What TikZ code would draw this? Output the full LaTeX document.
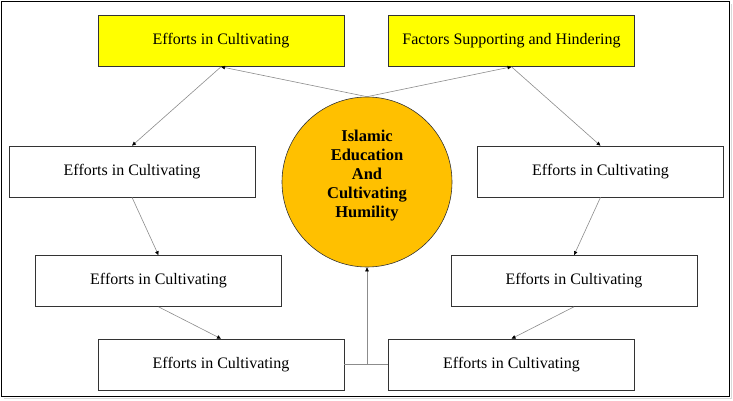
\documentclass[tikz,border=0pt]{standalone}
\usepackage{fontspec}
\setmainfont{Liberation Serif}
\usetikzlibrary{arrows.meta}
\definecolor{boxyellow}{HTML}{FFFF00}
\definecolor{circgold}{HTML}{FFC000}
\definecolor{linegray}{HTML}{8C8C8C}
\begin{document}
\begin{tikzpicture}[x=1pt,y=-1pt,
  box/.style={draw=black!80,line width=0.6pt,minimum width=246pt,minimum height=51pt,inner sep=0pt,font=\fontsize{16}{19}\selectfont},
  ybox/.style={box,fill=boxyellow},
  wbox/.style={box,fill=white},
  hub/.style={circle,draw=black!80,line width=0.6pt,fill=circgold,minimum size=170pt,inner sep=0pt},
  hubtext/.style={align=center,inner sep=0pt,font=\fontsize{16.5}{19}\selectfont\bfseries},
  conn/.style={draw=linegray,line width=0.6pt,-{Triangle[black,length=4pt,width=3.5pt]}},
  plain/.style={draw=linegray,line width=0.6pt}]
\useasboundingbox (0,0) rectangle (733,401);
\draw[black!15,line width=1.5pt] (4,398.5) -- (731.5,398.5) -- (731.5,4);
\draw[black,line width=1.3pt] (1.5,1.5) rectangle (729.5,396.5);
\node[hub] (c) at (367,182) {};
\node[hubtext] (ct) at (367,176) {Islamic\\Education\\And\\Cultivating\\Humility};
\node[ybox] (tl) at (221,41) {Efforts in Cultivating};
\node[ybox] (tr) at (511.5,41) {Factors Supporting and Hindering};
\node[wbox] (lm) at (132,171.5) {Efforts in Cultivating};
\node[wbox] (rm) at (600.5,171.5) {Efforts in Cultivating};
\node[wbox] (ll) at (158.5,281) {Efforts in Cultivating};
\node[wbox] (lr) at (574,281) {Efforts in Cultivating};
\node[wbox] (bl) at (221,364.5) {Efforts in Cultivating};
\node[wbox] (br) at (511.5,364.5) {Efforts in Cultivating};
\coordinate (j) at (c.south |- bl.east);
\draw[conn] (c.north) -- (tl.south);
\draw[conn] (c.north) -- (tr.south);
\draw[conn] (tl.south) -- (lm.north);
\draw[conn] (tr.south) -- (rm.north);
\draw[conn] (lm.south) -- (ll.north);
\draw[conn] (rm.south) -- (lr.north);
\draw[conn] (ll.south) -- (bl.north);
\draw[conn] (lr.south) -- (br.north);
\draw[plain] (bl.east) -- (br.west);
\draw[conn] (j) -- (c.south);
\end{tikzpicture}
\end{document}
